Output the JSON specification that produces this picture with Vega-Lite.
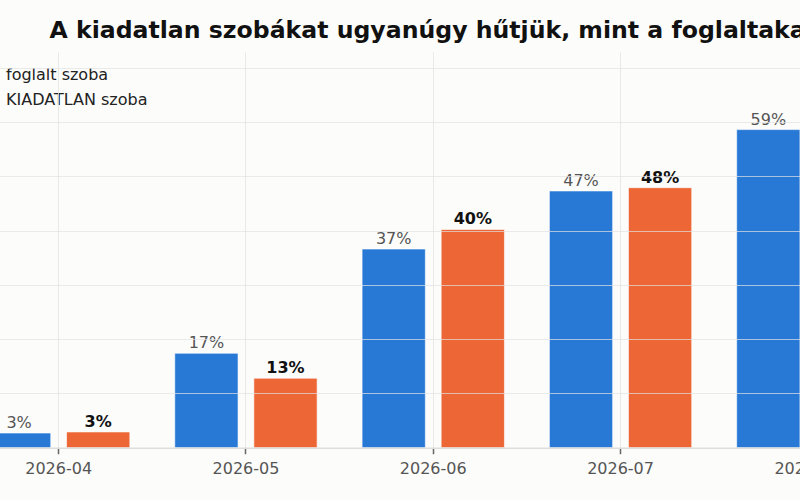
{
  "$schema": "https://vega.github.io/schema/vega-lite/v6.json",
  "width": 936.5,
  "height": 395.7,
  "autosize": "none",
  "padding": {"left": -35, "top": 52, "right": -101.5, "bottom": 52.3},
  "background": "#fcfcfa",
  "config": {
    "font": "DejaVu Sans",
    "view": {"stroke": null}
  },
  "title": {
    "text": "A kiadatlan szobákat ugyanúgy hűtjük, mint a foglaltakat",
    "fontSize": 23.6,
    "font": "DejaVu Sans",
    "fontWeight": "bold",
    "color": "#111111",
    "anchor": "middle",
    "offset": 9
  },
  "data": {
    "values": [
      {"month": "2026-04", "series": "foglalt szoba", "value": 0.027},
      {"month": "2026-04", "series": "KIADATLAN szoba", "value": 0.029},
      {"month": "2026-05", "series": "foglalt szoba", "value": 0.174},
      {"month": "2026-05", "series": "KIADATLAN szoba", "value": 0.128},
      {"month": "2026-06", "series": "foglalt szoba", "value": 0.366},
      {"month": "2026-06", "series": "KIADATLAN szoba", "value": 0.402},
      {"month": "2026-07", "series": "foglalt szoba", "value": 0.473},
      {"month": "2026-07", "series": "KIADATLAN szoba", "value": 0.479},
      {"month": "2026-08", "series": "foglalt szoba", "value": 0.586},
      {"month": "2026-08", "series": "KIADATLAN szoba", "value": 0.58}
    ]
  },
  "encoding": {
    "x": {
      "field": "month",
      "type": "nominal",
      "scale": {"paddingInner": 0.24, "paddingOuter": 0.12},
      "axis": {
        "title": null,
        "labelAngle": 0,
        "grid": true,
        "gridColor": "#e3e3e3",
        "gridOpacity": 0.8,
        "domainColor": "#dddddd",
        "domainWidth": 1.5,
        "tickColor": "#666666",
        "tickSize": 6,
        "tickWidth": 1.5,
        "labelFontSize": 16,
        "labelColor": "#555555",
        "labelPadding": 7,
        "zindex": 1
      }
    },
    "xOffset": {
      "field": "series",
      "type": "nominal",
      "scale": {"domain": ["foglalt szoba", "KIADATLAN szoba"], "paddingInner": 0.2, "paddingOuter": 0}
    },
    "y": {
      "field": "value",
      "type": "quantitative",
      "scale": {"domain": [0, 0.729], "nice": false},
      "axis": {
        "title": null,
        "values": [0, 0.1, 0.2, 0.3, 0.4, 0.5, 0.6, 0.7],
        "format": ".0%",
        "grid": true,
        "gridColor": "#e3e3e3",
        "gridOpacity": 0.7,
        "domain": false,
        "ticks": false,
        "labelFontSize": 14,
        "labelColor": "#555555",
        "zindex": 1
      }
    }
  },
  "layer": [
    {
      "mark": {"type": "bar", "stroke": "#ffffff", "strokeWidth": 1, "strokeOpacity": 0.6},
      "encoding": {
        "color": {
          "field": "series",
          "type": "nominal",
          "scale": {"domain": ["foglalt szoba", "KIADATLAN szoba"], "range": ["#2878d6", "#ec6735"]},
          "legend": {
            "title": null,
            "orient": "none",
            "legendX": 10,
            "legendY": 15,
            "symbolType": "square",
            "symbolSize": 200,
            "labelOffset": 15,
            "labelFontSize": 16,
            "labelColor": "#222222",
            "rowPadding": 3,
            "padding": 0
          }
        }
      }
    },
    {
      "transform": [{"filter": "datum.series === 'foglalt szoba'"}],
      "mark": {"type": "text", "baseline": "alphabetic", "dy": -5, "fontSize": 16, "color": "#555555"},
      "encoding": {"text": {"field": "value", "type": "quantitative", "format": ".0%"}}
    },
    {
      "transform": [{"filter": "datum.series === 'KIADATLAN szoba'"}],
      "mark": {"type": "text", "baseline": "alphabetic", "dy": -5, "fontSize": 16, "fontWeight": "bold", "color": "#111111"},
      "encoding": {"text": {"field": "value", "type": "quantitative", "format": ".0%"}}
    }
  ]
}
